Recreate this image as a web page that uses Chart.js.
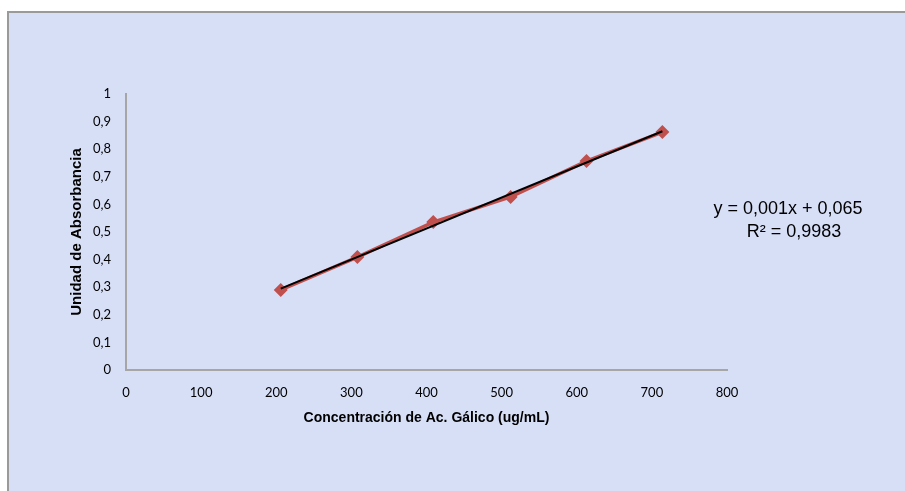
<!DOCTYPE html>
<html>
<head>
<meta charset="utf-8">
<script src="https://cdn.jsdelivr.net/npm/chart.js@4/dist/chart.umd.min.js"></script>
<style>
  body { margin: 0; background: #fff; }
  canvas { display: block; }
</style>
</head>
<body>
<canvas id="myChart" width="905" height="491"></canvas>
<script>
// datos
var concentracion = [206, 308, 409, 512, 613, 714]
var absorbancia = [0.29, 0.409, 0.536, 0.627, 0.757, 0.862]
var ecuacion = ['y = 0,001x + 0,065', 'R² = 0,9983']

// recta de minimos cuadrados (linea de tendencia)
function tendencia(xs, ys) {
  var n = xs.length, sx = 0, sy = 0, sxx = 0, sxy = 0
  for (var i = 0; i < n; i++) {
    sx += xs[i]; sy += ys[i]; sxx += xs[i] * xs[i]; sxy += xs[i] * ys[i]
  }
  var m = (n * sxy - sx * sy) / (n * sxx - sx * sx)
  var b = (sy - m * sx) / n
  return [
    { x: xs[0], y: m * xs[0] + b },
    { x: xs[n - 1], y: m * xs[n - 1] + b }
  ]
}

var puntos = concentracion.map(function (x, i) { return { x: x, y: absorbancia[i] } })

var fondo = {
  id: 'fondo',
  beforeDraw: function (chart) {
    var ctx = chart.ctx
    ctx.save()
    ctx.fillStyle = '#D7DFF7'
    ctx.fillRect(7, 11, 905, 491)
    ctx.strokeStyle = '#9A9A9A'
    ctx.lineWidth = 2
    ctx.beginPath()
    ctx.moveTo(8, 491)
    ctx.lineTo(8, 12)
    ctx.lineTo(905, 12)
    ctx.stroke()
    ctx.restore()
  },
  afterDraw: function (chart) {
    var ctx = chart.ctx
    ctx.save()
    ctx.fillStyle = '#000'
    ctx.font = '18px "Liberation Sans", Arial, sans-serif'
    ctx.textAlign = 'center'
    ctx.textBaseline = 'middle'
    ctx.fillText(ecuacion[0], 788, 209)
    ctx.fillText(ecuacion[1], 794, 232)
    ctx.restore()
  }
}

var ctx = document.getElementById('myChart').getContext('2d')
var chart = new Chart(ctx, {
  type: 'scatter',
  data: {
    datasets: [{
      label: 'Absorbancia',
      data: puntos,
      showLine: true,
      borderColor: '#C0504D',
      backgroundColor: '#C0504D',
      borderWidth: 3.5,
      pointStyle: 'rectRot',
      pointRadius: 7,
      pointBorderWidth: 0,
      order: 2
    }, {
      label: 'Tendencia',
      data: tendencia(concentracion, absorbancia),
      showLine: true,
      borderColor: '#000',
      borderWidth: 2,
      pointRadius: 0,
      order: 1
    }]
  },
  options: {
    responsive: false,
    animation: false,
    layout: { padding: { left: 0, top: 94, right: 178, bottom: 0 } },
    plugins: { legend: { display: false }, tooltip: { enabled: false } },
    scales: {
      x: {
        type: 'linear',
        min: 0,
        max: 800,
        ticks: { stepSize: 100, color: '#000', padding: 7, font: { family: 'Lato', size: 13 } },
        grid: { display: false },
        border: { display: true, color: '#A6A6A6', width: 2 },
        title: {
          display: true,
          text: 'Concentración de Ac. Gálico (ug/mL)',
          color: '#000',
          font: { family: 'Liberation Sans', size: 14, weight: 'bold' },
          padding: { top: 0, bottom: 64 }
        },
        afterFit: function (s) { s.height = 121 }
      },
      y: {
        min: 0,
        max: 1,
        ticks: {
          stepSize: 0.1,
          color: '#000',
          padding: 7,
          font: { family: 'Lato', size: 13 },
          callback: function (v) { return String(Math.round(v * 10) / 10).replace('.', ',') }
        },
        grid: { display: false },
        border: { display: true, color: '#A6A6A6', width: 2 },
        title: {
          display: true,
          text: 'Unidad de Absorbancia',
          color: '#000',
          font: { family: 'Liberation Sans', size: 15, weight: 'bold' },
          padding: { top: 68 }
        },
        afterFit: function (s) { s.width = 126 }
      }
    }
  },
  plugins: [fondo]
})
</script>
</body>
</html>
